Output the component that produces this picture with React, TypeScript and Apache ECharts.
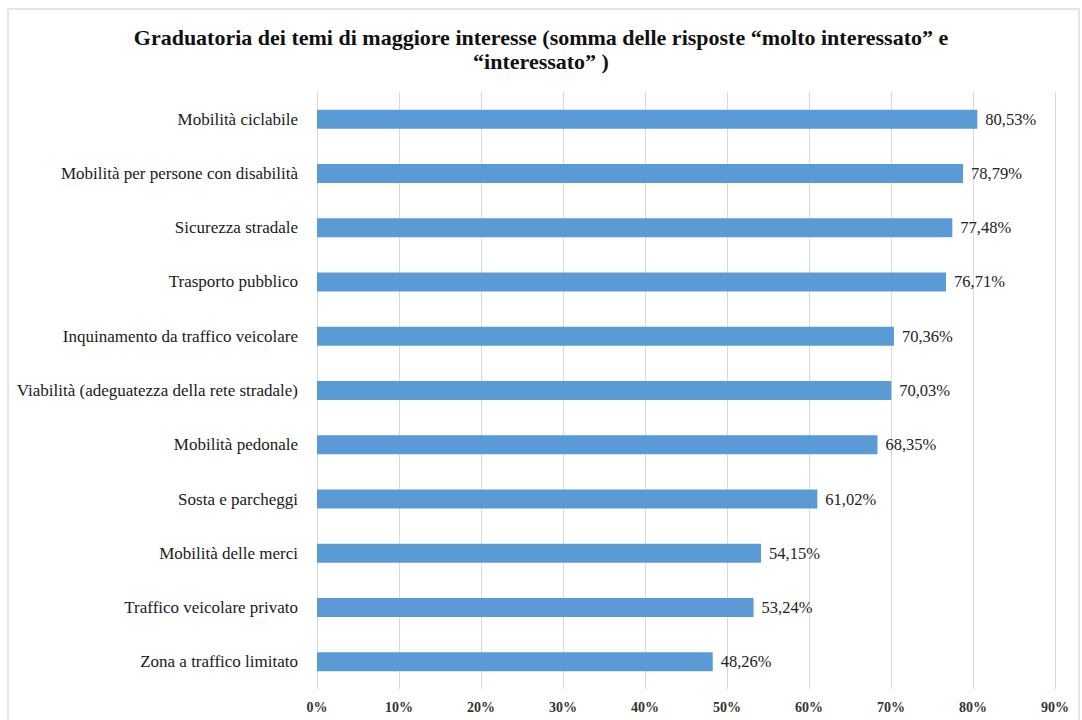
import React, { useEffect, useRef } from "react";
import * as echarts from "echarts";

const categories = [
  "Mobilità ciclabile",
  "Mobilità per persone con disabilità",
  "Sicurezza stradale",
  "Trasporto pubblico",
  "Inquinamento da traffico veicolare",
  "Viabilità (adeguatezza della rete stradale)",
  "Mobilità pedonale",
  "Sosta e parcheggi",
  "Mobilità delle merci",
  "Traffico veicolare privato",
  "Zona a traffico limitato",
];
const values = [80.53, 78.79, 77.48, 76.71, 70.36, 70.03, 68.35, 61.02, 54.15, 53.24, 48.26];
const titleText =
  "Graduatoria dei temi di maggiore interesse (somma delle risposte \u201cmolto interessato\u201d e\n\u201cinteressato\u201d )";

const SERIF = "'Liberation Serif', 'DejaVu Serif', serif";

export default function App() {
  const ref = useRef<HTMLDivElement>(null);
  useEffect(() => {
    if (!ref.current) return;
    const chart = echarts.init(ref.current, undefined, { renderer: "svg" });
    chart.setOption({
      animation: false,
      backgroundColor: "#ffffff",
      title: {
        text: titleText,
        left: "center",
        top: 20,
        textStyle: {
          fontFamily: SERIF,
          fontWeight: "bold",
          fontSize: 22,
          lineHeight: 24,
          color: "#111",
        },
      },
      graphic: [
        {
          type: "rect",
          shape: { x: 8, y: 9, width: 1071, height: 720 },
          style: { fill: "none", stroke: "#e4e4e4", lineWidth: 2 },
          silent: true,
        },
      ],
      grid: { left: 317, right: 27, top: 92, bottom: 31 },
      xAxis: {
        type: "value",
        min: 0,
        max: 90,
        interval: 10,
        axisLabel: {
          formatter: "{value}%",
          fontFamily: SERIF,
          fontSize: 14,
          fontWeight: "bold",
          color: "#333",
          margin: 11,
        },
        axisLine: { show: false },
        axisTick: { show: false },
        splitLine: { show: true, lineStyle: { color: "#d9d9d9", width: 1 } },
      },
      yAxis: {
        type: "category",
        data: categories,
        inverse: true,
        axisLabel: {
          fontFamily: SERIF,
          fontSize: 17,
          color: "#1a1a1a",
          margin: 19,
        },
        axisLine: { show: true, lineStyle: { color: "#d9d9d9" } },
        axisTick: { show: false },
      },
      series: [
        {
          type: "bar",
          data: values,
          barWidth: 19,
          itemStyle: { color: "#5B9BD5" },
          label: {
            show: true,
            position: "right",
            distance: 8,
            fontFamily: SERIF,
            fontSize: 16.5,
            color: "#222",
            formatter: (p: any) => p.value.toFixed(2).replace(".", ",") + "%",
          },
        },
      ],
    });
    return () => chart.dispose();
  }, []);
  return (
    <div
      ref={ref}
      style={{ position: "fixed", left: 0, top: 0, width: 1082, height: 720 }}
    />
  );
}
